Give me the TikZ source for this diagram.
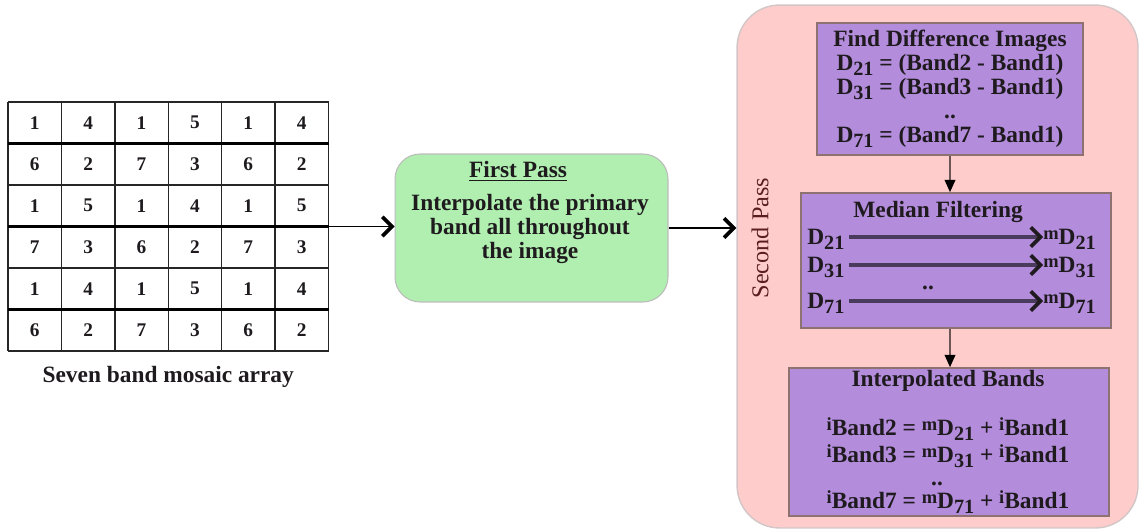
\documentclass[tikz,border=0pt]{standalone}
\usepackage{fontspec}
\setmainfont{Liberation Serif}
\usetikzlibrary{arrows.meta, positioning, calc}
\definecolor{pinkbg}{HTML}{FFCCCC}
\definecolor{pinkedge}{HTML}{D2C6C6}
\definecolor{greenbg}{HTML}{B0EFB0}
\definecolor{greenedge}{HTML}{BBBBBB}
\definecolor{violetbg}{HTML}{B38CDB}
\definecolor{violetedge}{HTML}{8E7272}
\definecolor{passred}{HTML}{5A1E1E}
\definecolor{inkdark}{HTML}{1E1A1E}
\definecolor{filterline}{HTML}{4A3B5C}
\definecolor{stemline}{HTML}{6E5656}
\newcommand{\lo}[1]{\raisebox{-0.45ex}{\fontsize{11.5}{11.5}\selectfont #1}}
\newcommand{\hi}[1]{\raisebox{0.55ex}{\fontsize{10.5}{10.5}\selectfont #1}}
\tikzset{
  bigtxt/.style={font=\fontsize{13.3}{13.6}\selectfont\bfseries, text=inkdark},
  chev/.style={-{Straight Barb[length=5.5pt,width=11pt,line width=2.1pt]}, line width=0.85pt, black},
}
\begin{document}
\begin{tikzpicture}[x=0.02cm, y=-0.02cm,
  cellnum/.style={font=\fontsize{11}{11}\selectfont\bfseries, text=inkdark},
  gridthin/.style={line width=0.8pt, black!85},
  gridthick/.style={line width=1.8pt, black},
  greenbox/.style={draw=greenedge, fill=greenbg, rounded corners=0.5cm, line width=0.6pt,
                   minimum width=5.46cm, minimum height=2.96cm},
  passbox/.style={draw=pinkedge, fill=pinkbg, rounded corners=0.85cm, line width=0.8pt,
                  minimum width=8.02cm, minimum height=10.46cm},
  violet/.style={draw=violetedge, fill=violetbg, line width=0.9pt},
  rowlbl/.style={bigtxt, inner sep=0pt, text height=9pt, text depth=0pt, anchor=west},
  eqline/.style={bigtxt, inner sep=0pt, text height=9pt, text depth=0pt},
  dotsbox/.style={bigtxt, inner sep=0pt},
  filt/.style={-{Straight Barb[length=5.5pt,width=11pt,line width=2.1pt,color=inkdark]},
               line width=1.8pt, filterline, shorten <=2.5pt},
  stem/.style={-{Triangle[length=7pt,width=6pt,color=black]}, line width=1.1pt, stemline}]
  \useasboundingbox (0,0) rectangle (1141,530);

  % mosaic array
  \node[inner sep=0pt, minimum width=6.41cm, minimum height=4.98cm] (mosaic) at (168.2,226.5) {};
  \foreach \c in {0,...,6}
    \draw[gridthin] ({8+\c*53.4},102) -- ({8+\c*53.4},351);
  \foreach \r in {0,2,4,6}
    \draw[gridthin] (8,{102+\r*41.5}) -- (329,{102+\r*41.5});
  \foreach \r in {1,3,5}
    \draw[gridthick] (8,{102+\r*41.5}) -- (329,{102+\r*41.5});
  \foreach \row [count=\r] in {{1,4,1,5,1,4},{6,2,7,3,6,2},{1,5,1,4,1,5},
                               {7,3,6,2,7,3},{1,4,1,5,1,4},{6,2,7,3,6,2}}
    \foreach \v [count=\c] in \row
      \node[cellnum] (c\r\c) at ({8+(\c-0.5)*53.4},{102+(\r-0.5)*41.5}) {\v};
  \node[bigtxt, below=0.18cm of mosaic] (caption) {Seven band mosaic array};

  % first pass
  \node[greenbox] (first) at (531.5,228) {};
  \node[bigtxt] (firsttitle) at (518,171) {\underline{First Pass}};
  \node[bigtxt, align=center, font=\fontsize{13.3}{13.4}\selectfont\bfseries] (firstbody) at (530,229)
    {Interpolate the primary\\band all throughout\\the image};

  % second pass
  \node[passbox] (second) at (937.5,266.5) {};
  \node[rotate=90, font=\fontsize{13.8}{14}\selectfont, text=passred] (passlbl) at (760,238) {Second Pass};

  \node[violet, bigtxt, align=center, minimum width=5.32cm, minimum height=2.64cm] (diff) at (950,89)
    {Find Difference Images\\D\lo{21} = (Band2 - Band1)\\D\lo{31} = (Band3 - Band1)\\..\\D\lo{71} = (Band7 - Band1)};

  \node[violet, minimum width=6.2cm, minimum height=2.7cm] (median) at (956,260.5) {};
  \node[bigtxt] (mediantitle) at (938,212) {Median Filtering};
  \node[rowlbl] (d21) at (807,237) {D\lo{21}};
  \node[rowlbl] (d31) at (807,265) {D\lo{31}};
  \node[rowlbl] (d71) at (807,301) {D\lo{71}};
  \node[rowlbl] (md21) at (1043,237) {\hi{m}D\lo{21}};
  \node[rowlbl] (md31) at (1043,265) {\hi{m}D\lo{31}};
  \node[rowlbl] (md71) at (1043,301) {\hi{m}D\lo{71}};
  \node[dotsbox] (mediandots) at (928,288) {..};
  \draw[filt] (d21) -- (md21);
  \draw[filt] (d31) -- (md31);
  \draw[filt] (d71) -- (md71);

  \node[violet, minimum width=6.4cm, minimum height=2.96cm] (interp) at (949,442) {};
  \node[bigtxt] (interptitle) at (948,381) {Interpolated Bands};
  \node[eqline] (band2) at (948,428) {\hi{i}Band2 = \hi{m}D\lo{21} + \hi{i}Band1};
  \node[eqline] (band3) at (948,455) {\hi{i}Band3 = \hi{m}D\lo{31} + \hi{i}Band1};
  \node[dotsbox] (interpdots) at (937,484) {..};
  \node[eqline] (band7) at (948,501) {\hi{i}Band7 = \hi{m}D\lo{71} + \hi{i}Band1};

  % connectors
  \draw[chev] (mosaic.east) -- (mosaic.east -| first.west);
  \draw[chev] (first.east) -- (first.east -| second.west);
  \draw[stem] (diff.south) -- (diff.south |- median.north);
  \draw[stem] (median.south -| diff.south) -- (diff.south |- interp.north);
\end{tikzpicture}
\end{document}
